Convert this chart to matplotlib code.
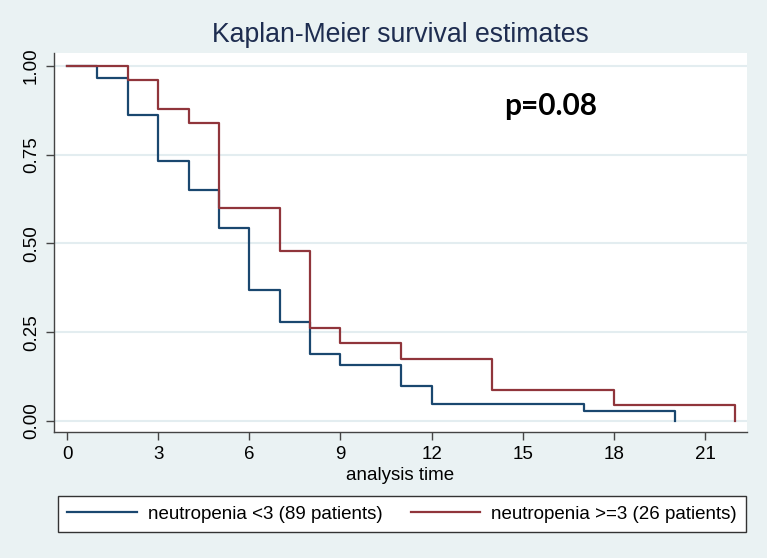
import matplotlib
matplotlib.use("Agg")
import matplotlib.pyplot as plt
from matplotlib.lines import Line2D

# Data
t_low = [0, 1, 2, 3, 4, 5, 6, 7, 8, 9, 11, 12, 17, 20]
s_low = [1.0, 0.966, 0.861, 0.731, 0.652, 0.544, 0.369, 0.278, 0.188, 0.157, 0.098, 0.049, 0.027, 0.0]
t_high = [0, 2, 3, 4, 5, 7, 8, 9, 11, 14, 18, 22]
s_high = [1.0, 0.96, 0.88, 0.84, 0.60, 0.48, 0.263, 0.219, 0.175, 0.088, 0.044, 0.0]
labels = ["neutropenia <3 (89 patients)", "neutropenia >=3 (26 patients)"]
x_ticks = [0, 3, 6, 9, 12, 15, 18, 21]
y_ticks = [0.0, 0.25, 0.50, 0.75, 1.00]
y_ticklabels = ["0.00", "0.25", "0.50", "0.75", "1.00"]
p_text = "p=0.08"

plt.rcParams['font.family'] = ['Liberation Sans', 'DejaVu Sans']

BG = '#EAF2F3'
BLUE = '#1A476F'
RED = '#90353B'

fig = plt.figure(figsize=(7.67, 5.58), dpi=100, facecolor=BG)
W, H = 767, 558
left, right, top, bottom = 54, 747, 53, 432
ax = fig.add_axes([left / W, 1 - bottom / H, (right - left) / W, (bottom - top) / H])
ax.set_facecolor('white')

for yv in y_ticks:
    ax.axhline(yv, color='#E3EDF0', lw=1.5, zorder=1)

ax.step(t_low, s_low, where='post', color=BLUE, lw=1.6, zorder=3)
ax.step(t_high, s_high, where='post', color=RED, lw=1.6, zorder=4)

ax.set_xlim(-0.43, 22.38)
ax.set_ylim(-0.031, 1.0366)

ax.set_xticks(x_ticks)
ax.set_xticklabels([str(v) for v in x_ticks], fontsize=13.5)
ax.set_yticks(y_ticks)
ax.set_yticklabels(y_ticklabels, fontsize=13.5, rotation=90, va='center')

for s in ['top', 'right']:
    ax.spines[s].set_visible(False)
for s in ['left', 'bottom']:
    ax.spines[s].set_color('#444444')
    ax.spines[s].set_linewidth(1.0)
ax.tick_params(axis='both', direction='out', length=6, width=1.0, color='#444444', pad=4)

ax.set_xlabel("analysis time", fontsize=13.5, labelpad=3)
fig.text(0.5 * (left + right) / W, 1 - 35 / H, "Kaplan-Meier survival estimates",
         ha='center', va='center', fontsize=19.2, color='#1E2D50')

ax.text(15.93, 0.887, p_text, ha='center', va='center', fontsize=21.5, fontweight='bold',
        family=['Lato', 'DejaVu Sans'], color='black')

handles = [Line2D([], [], color=BLUE, lw=1.6), Line2D([], [], color=RED, lw=1.6)]
leg = fig.legend(handles, labels, ncol=2, loc='center',
                 bbox_to_anchor=(402 / W, 1 - 514 / H), fontsize=13.5,
                 frameon=True, fancybox=False, edgecolor='#333333', facecolor='white',
                 handlelength=3.7, columnspacing=1.5, borderpad=0.5, handletextpad=0.6)
leg.get_frame().set_linewidth(1.0)
leg.get_frame().set_alpha(1)

fig.savefig("out.png", dpi=100, facecolor=BG)
